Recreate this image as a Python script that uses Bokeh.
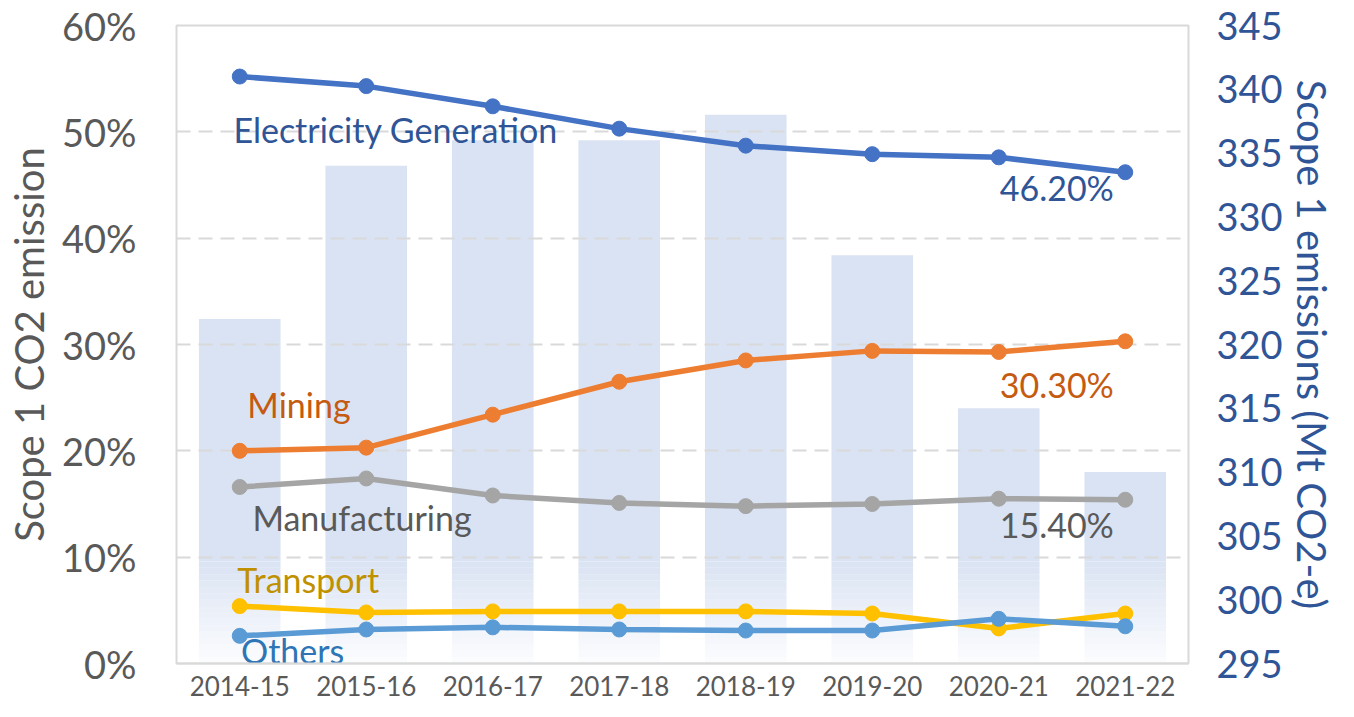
import numpy as np
from bokeh.plotting import figure
from bokeh.models import Range1d, LinearAxis, FixedTicker, PrintfTickFormatter
from bokeh.core.properties import value
from bokeh.embed import file_html
from bokeh.resources import INLINE

# ---------------- data ----------------
years = ["2014-15", "2015-16", "2016-17", "2017-18", "2018-19", "2019-20", "2020-21", "2021-22"]
total_emissions = [322, 334, 336, 336, 338, 327, 315, 310]          # Mt CO2-e (right axis)
electricity = [55.2, 54.3, 52.4, 50.3, 48.7, 47.9, 47.6, 46.2]       # % share
mining = [20.0, 20.3, 23.4, 26.5, 28.5, 29.4, 29.3, 30.3]
manufacturing = [16.6, 17.4, 15.8, 15.1, 14.8, 15.0, 15.5, 15.4]
transport = [5.4, 4.8, 4.9, 4.9, 4.9, 4.7, 3.3, 4.7]
others = [2.6, 3.2, 3.4, 3.2, 3.1, 3.1, 4.2, 3.5]

series_names = ["Electricity Generation", "Mining", "Manufacturing", "Transport", "Others"]
series_values = [electricity, mining, manufacturing, transport, others]
line_colors = ["#4472C4", "#ED7D31", "#A5A5A5", "#FFC000", "#5B9BD5"]
label_colors = ["#2F5597", "#C55A11", "#595959", "#BF9000", "#2E75B6"]
end_label_series = [0, 1, 2]   # series that carry an end-value label

FONT = "Lato"
x = np.arange(len(years))

p = figure(width=1338, height=701, output_backend="svg", toolbar_location=None,
           x_range=Range1d(-0.5, len(years) - 0.5), y_range=Range1d(0, 60),
           min_border_left=176, min_border_right=147, min_border_top=25, min_border_bottom=38)
p.extra_y_ranges = {"tot": Range1d(295, 345)}

p.outline_line_color = "#D9D9D9"
p.outline_line_width = 2
p.background_fill_color = "white"
p.border_fill_color = "white"

# ---------------- bars (gradient to white at the bottom) ----------------
bar_w = 0.645
bar_color = "#DAE3F3"
y0, y1 = p.extra_y_ranges["tot"].start, 303.0
tot = np.array(total_emissions, dtype=float)
p.vbar(x=x, width=bar_w, bottom=y1, top=tot, fill_color=bar_color, line_color=None,
       y_range_name="tot", level="image")
N = 16
edges = np.linspace(y0, y1, N + 1)
for k in range(N):
    p.vbar(x=x, width=bar_w, bottom=edges[k], top=np.minimum(tot, edges[k + 1]),
           fill_color=bar_color, fill_alpha=0.08 + 0.92 * (k + 0.5) / N, line_color=None,
           y_range_name="tot", level="image")

# ---------------- lines ----------------
for vals, col in zip(series_values, line_colors):
    p.line(x, vals, line_color=col, line_width=5.5)
    p.scatter(x, vals, size=15, fill_color=col, line_color=col)

# series labels
lab_x = [-0.05, 0.06, 0.10, -0.02, 0.01]
lab_y = [50.2, 24.4, 13.7, 7.9, 1.2]
p.text(x=lab_x, y=lab_y, text=series_names, text_color=label_colors,
       text_font=value(FONT), text_font_size="34px", text_baseline="middle", text_align="left")

# end-value labels
end_x = [len(years) - 1 - 0.09] * len(end_label_series)
end_y = [44.8, 26.2, 13.1]
end_text = ["%.2f%%" % series_values[i][-1] for i in end_label_series]
p.text(x=end_x, y=end_y, text=end_text, text_color=[label_colors[i] for i in end_label_series],
       text_font=value(FONT), text_font_size="34px", text_baseline="middle", text_align="right")

# ---------------- axes ----------------
p.xaxis.ticker = FixedTicker(ticks=list(x))
p.xaxis.major_label_overrides = {int(i): y for i, y in zip(x, years)}
p.xaxis.axis_line_color = "#D9D9D9"
p.xaxis.axis_line_width = 2
p.xaxis.major_tick_line_color = None
p.xaxis.minor_tick_line_color = None
p.xaxis.major_label_text_font = FONT
p.xaxis.major_label_text_font_size = "26px"
p.xaxis.major_label_text_color = "#595959"
p.xaxis.major_label_standoff = 6

p.yaxis.ticker = FixedTicker(ticks=list(range(0, 61, 10)))
p.yaxis.formatter = PrintfTickFormatter(format="%d%%")
p.yaxis.axis_line_color = None
p.yaxis.major_tick_line_color = None
p.yaxis.minor_tick_line_color = None
p.yaxis.major_label_text_font = FONT
p.yaxis.major_label_text_font_size = "38px"
p.yaxis.major_label_text_color = "#595959"
p.yaxis.major_label_standoff = 34
p.yaxis.axis_label = "Scope 1 CO2 emission"
p.yaxis.axis_label_text_font = FONT
p.yaxis.axis_label_text_font_style = "normal"
p.yaxis.axis_label_text_font_size = "40px"
p.yaxis.axis_label_text_color = "#595959"
p.yaxis.axis_label_standoff = 6

ax2 = LinearAxis(y_range_name="tot", ticker=FixedTicker(ticks=list(range(295, 346, 5))))
ax2.axis_line_color = None
ax2.major_tick_line_color = None
ax2.minor_tick_line_color = None
ax2.major_label_text_font = FONT
ax2.major_label_text_font_size = "38px"
ax2.major_label_text_color = "#2F5597"
ax2.major_label_standoff = 22
ax2.axis_label = "Scope 1 emissions (Mt CO2-e)"
ax2.axis_label_text_font = FONT
ax2.axis_label_text_font_style = "normal"
ax2.axis_label_text_font_size = "40px"
ax2.axis_label_text_color = "#2F5597"
ax2.axis_label_standoff = 2
p.add_layout(ax2, "right")

p.xgrid.grid_line_color = None
p.ygrid.grid_line_color = "#D9D9D9"
p.ygrid.grid_line_width = 2
p.ygrid.grid_line_dash = "14 8"

open("out.html", "w").write(file_html(p, INLINE))
